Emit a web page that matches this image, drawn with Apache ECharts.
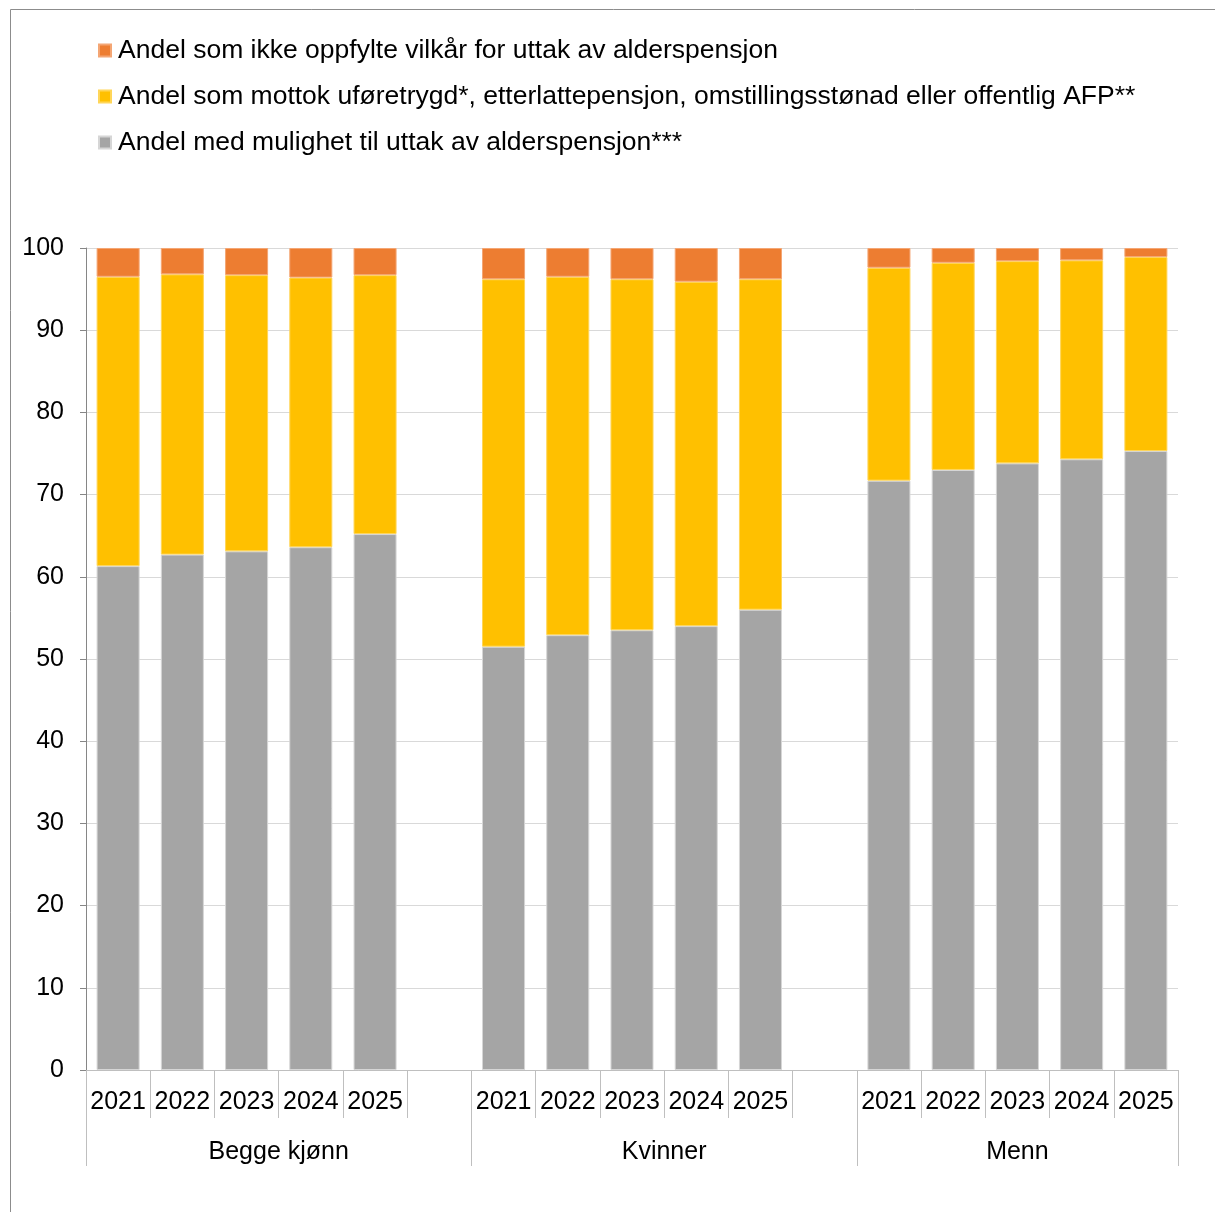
<!DOCTYPE html>
<html><head><meta charset="utf-8">
<script src="https://cdn.jsdelivr.net/npm/echarts@6/dist/echarts.min.js"></script>
<style>html,body{margin:0;padding:0;background:#fff}#c{width:1215px;height:1212px}</style>
</head><body><div id="c"></div>
<script>
const groups = ['Begge kjønn', 'Kvinner', 'Menn'];
const years = ['2021', '2022', '2023', '2024', '2025'];
const nameOrange = 'Andel som ikke oppfylte vilkår for uttak av alderspensjon';
const nameYellow = 'Andel som mottok uføretrygd*, etterlattepensjon, omstillingsstønad eller offentlig AFP**';
const nameGray = 'Andel med mulighet til uttak av alderspensjon***';

// values per group (Begge kjønn, Kvinner, Menn), years 2021-2025
const grayValues = [
  [61.3, 62.7, 63.1, 63.6, 65.2],
  [51.5, 52.9, 53.5, 54.0, 56.0],
  [71.7, 73.0, 73.8, 74.3, 75.3]
];
const yellowValues = [
  [35.2, 34.1, 33.6, 32.8, 31.5],
  [44.7, 43.6, 42.7, 41.9, 40.2],
  [25.9, 25.2, 24.6, 24.2, 23.6]
];
const orangeValues = [
  [3.5, 3.2, 3.3, 3.6, 3.3],
  [3.8, 3.5, 3.8, 4.1, 3.8],
  [2.4, 1.8, 1.6, 1.5, 1.1]
];
const yTicks = [0, 10, 20, 30, 40, 50, 60, 70, 80, 90, 100];

// build category axis with an empty spacer slot after each group except the last
const cats = [];
const groupStartIdx = [];
groups.forEach((g, gi) => {
  groupStartIdx.push(cats.length);
  years.forEach(y => cats.push(g + '|' + y));
  if (gi < groups.length - 1) cats.push('spacer' + gi);
});
const nSlots = cats.length;
function flatten(arr) {
  const out = [];
  arr.forEach((vals, gi) => {
    vals.forEach(v => out.push(v));
    if (gi < arr.length - 1) out.push(null);
  });
  return out;
}
// group label axis on half-slot boundaries
const halfCats = [];
for (let i = 0; i <= nSlots * 2; i++) halfCats.push('');
const groupBounds = [];
groups.forEach((g, gi) => {
  const start = groupStartIdx[gi];
  const end = gi < groups.length - 1 ? groupStartIdx[gi + 1] : nSlots;
  groupBounds.push(start * 2);
  halfCats[start + end] = g;
});
groupBounds.push(nSlots * 2);

const font = 'Liberation Sans, Arial, sans-serif';
const chart = echarts.init(document.getElementById('c'));
chart.setOption({
  animation: false,
  graphic: [{
    type: 'rect', shape: {x: 10.5, y: 9.5, width: 1230, height: 1230},
    style: {fill: 'none', stroke: '#8c8c8c', lineWidth: 1}, silent: true
  }],
  legend: {
    orient: 'vertical', left: 98, top: 37, padding: 0,
    itemWidth: 12, itemHeight: 12, itemGap: 19,
    icon: 'rect',
    textStyle: {fontFamily: font, fontSize: 26.5, color: '#000', padding: [0, 0, 0, 2]},
    data: [nameOrange, nameYellow, nameGray]
  },
  grid: {left: 86, right: 37, top: 248, bottom: 142, containLabel: false},
  xAxis: [{
    type: 'category', data: cats, position: 'bottom',
    axisLine: {show: true, lineStyle: {color: '#bfbfbf', width: 1}},
    axisTick: {show: true, interval: 0, length: 48, lineStyle: {color: '#bfbfbf'}},
    axisLabel: {interval: 0, margin: 20, fontFamily: font, fontSize: 25, color: '#000',
      formatter: v => v.indexOf('|') >= 0 ? v.split('|')[1] : ''}
  }, {
    type: 'category', data: halfCats, position: 'bottom', boundaryGap: false,
    axisLine: {show: false},
    axisTick: {show: true, length: 96, lineStyle: {color: '#bfbfbf'},
      interval: (i) => groupBounds.indexOf(i) >= 0},
    axisLabel: {interval: 0, margin: 70, fontFamily: font, fontSize: 25, color: '#000'}
  }],
  yAxis: {
    type: 'value', min: 0, max: 100, interval: 10,
    axisLine: {show: true, lineStyle: {color: '#868686'}},
    axisTick: {show: true, length: 6, lineStyle: {color: '#868686'}},
    splitLine: {lineStyle: {color: '#d9d9d9', width: 1}},
    axisLabel: {margin: 22, fontFamily: font, fontSize: 25, color: '#000',
      formatter: v => yTicks.indexOf(v) >= 0 ? String(v) : ''}
  },
  series: [
    {name: nameGray, type: 'bar', stack: 's', data: flatten(grayValues), barCategoryGap: '33%',
      itemStyle: {color: '#A5A5A5', borderColor: '#d6d6d6', borderWidth: 1}},
    {name: nameYellow, type: 'bar', stack: 's', data: flatten(yellowValues),
      itemStyle: {color: '#FFC000', borderColor: '#ffd659', borderWidth: 1}},
    {name: nameOrange, type: 'bar', stack: 's', data: flatten(orangeValues),
      itemStyle: {color: '#ED7D31', borderColor: '#f4a674', borderWidth: 1}}
  ]
});
</script></body></html>
